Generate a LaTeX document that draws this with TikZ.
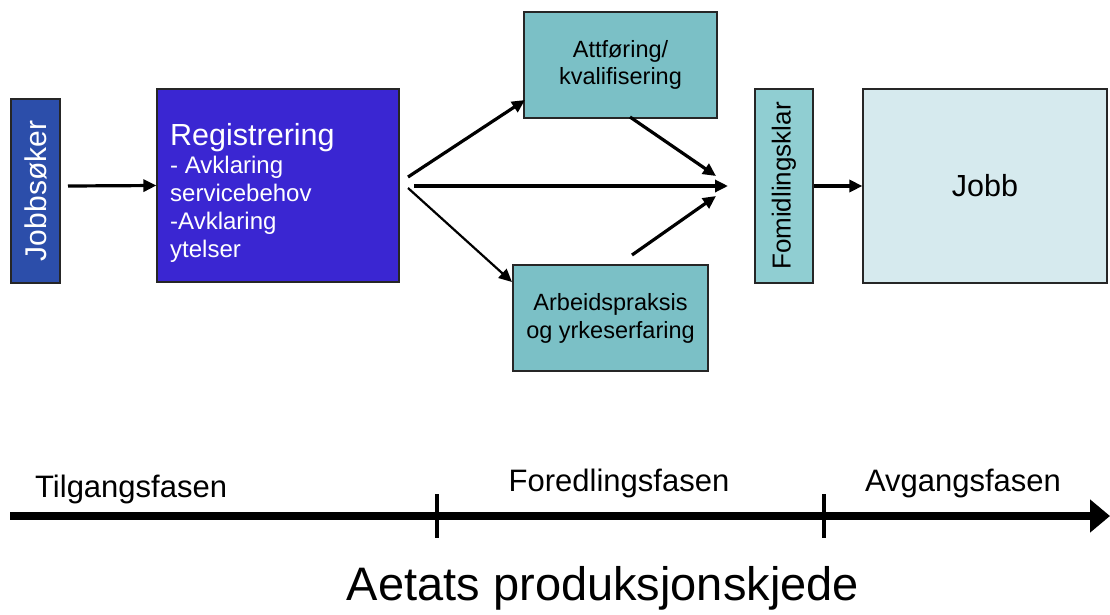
\documentclass[tikz,border=0pt]{standalone}
\usepackage{fontspec}
\setmainfont{Liberation Sans}
\usetikzlibrary{arrows.meta}
\definecolor{jsblue}{RGB}{44,78,170}
\definecolor{regblue}{RGB}{58,38,210}
\definecolor{teal1}{RGB}{123,192,198}
\definecolor{teal2}{RGB}{144,206,210}
\definecolor{lightjob}{RGB}{214,234,238}
\tikzset{
  box/.style={draw=black!85, line width=1.2pt, rectangle, inner sep=0pt},
  conn/.style={line width=3.2pt, -{Triangle[length=13pt,width=12pt]}},
  thinconn/.style={line width=2.2pt, -{Triangle[length=13pt,width=12pt]}},
  phase/.style={font=\fontsize{31}{31}\selectfont, anchor=base},
}
\begin{document}
\begin{tikzpicture}[x=1pt,y=-1pt]
\useasboundingbox (0,0) rectangle (1110,614);
% boxes
\node[box, fill=jsblue, minimum width=49pt, minimum height=184pt] (js) at (35.5,191) {};
\node[text=white, rotate=90, font=\fontsize{30}{30}\selectfont] (jstext) at (js.center) {Jobbsøker};
\node[box, fill=regblue, minimum width=242pt, minimum height=193pt] (reg) at (278,185.5) {};
\node[text=white, anchor=north west, align=left, inner sep=0pt,
      font=\fontsize{24}{28}\selectfont] (regtext) at (170,123)
  {{\fontsize{30.5}{30.5}\selectfont Registrering}\\[0pt]- Avklaring\\servicebehov\\-Avklaring\\ytelser};
\node[box, fill=teal1, minimum width=193pt, minimum height=106pt, align=center,
      font=\fontsize{23.5}{27}\selectfont] (att) at (620.5,65) {Attføring/\\kvalifisering};
\node[box, fill=teal1, minimum width=195pt, minimum height=106pt, align=center,
      font=\fontsize{23.5}{28}\selectfont] (arb) at (610.5,318) {Arbeidspraksis\\og yrkeserfaring};
\node[box, fill=teal2, minimum width=58pt, minimum height=194pt] (form) at (784,186) {};
\node[rotate=90, font=\fontsize{26}{26}\selectfont] (formtext) at (form.center) {Fomidlingsklar};
\node[box, fill=lightjob, minimum width=244pt, minimum height=194pt,
      font=\fontsize{30.5}{30.5}\selectfont] (jobb) at (985,186) {Jobb};
% connector coordinates
\coordinate (a0) at (68,186);
\coordinate (f1) at (408,177);
\coordinate (f2) at (414,186);
\coordinate (f3) at (408,188);
\coordinate (hub) at (728,186);
\coordinate (hubu) at (716,176);
\coordinate (hubd) at (716,196);
\coordinate (attout) at (630,117);
\coordinate (arbout) at (632,255);
\coordinate (attin) at (525,100);
\coordinate (arbin) at (512,282);
\draw[conn] (a0) -- (reg.west);
\draw[conn] (f1) -- (attin);
\draw[conn] (f2) -- (hub);
\draw[thinconn] (f3) -- (arbin);
\draw[conn] (attout) -- (hubu);
\draw[conn] (arbout) -- (hubd);
\draw[conn] (form.east) -- (jobb.west);
% timeline
\coordinate (tl0) at (10,516);
\coordinate (tl1) at (1110,516);
\draw[line width=8.5pt, -{Triangle[length=20pt,width=32pt]}] (tl0) -- (tl1);
\coordinate (t1a) at (437,494);
\coordinate (t1b) at (437,538);
\coordinate (t2a) at (824,494);
\coordinate (t2b) at (824,538);
\draw[line width=3.5pt] (t1a) -- (t1b);
\draw[line width=3.5pt] (t2a) -- (t2b);
\node[phase, anchor=base west, inner sep=0pt] (p1) at (35,497) {Tilgangsfasen};
\node[phase, inner sep=0pt] (p2) at (619,491) {Foredlingsfasen};
\node[phase, inner sep=0pt] (p3) at (963,491) {Avgangsfasen};
\node[font=\fontsize{47}{47}\selectfont, anchor=base, inner sep=0pt] (title) at (603,600) {Aetats produksjonskjede};
\end{tikzpicture}
\end{document}
